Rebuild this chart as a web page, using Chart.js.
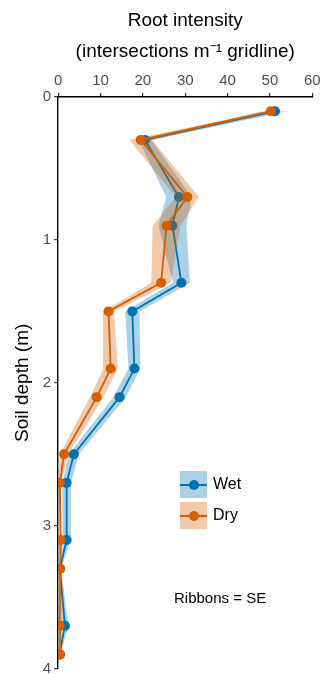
<!DOCTYPE html>
<html>
<head>
<meta charset="utf-8">
<script src="https://cdn.jsdelivr.net/npm/chart.js@4"></script>
<style>
  html, body { margin: 0; padding: 0; background: #fff; }
  #wrap { position: relative; width: 321px; height: 674px; font-family: "Liberation Sans", Arial, sans-serif; }
  canvas { position: absolute; left: 0; top: 0; }
  .key { position: absolute; width: 27px; height: 27px; }
  .key .ln { position: absolute; left: 0; right: 0; top: 12.5px; height: 2px; }
  .key .pt { position: absolute; left: 8.5px; top: 8.5px; width: 10px; height: 10px; border-radius: 50%; }
  .lab { position: absolute; font-size: 16px; color: #000; line-height: 16px; }
  .note { position: absolute; font-size: 15px; color: #000; line-height: 15px; }
</style>
</head>
<body>
<div id="wrap">
  <canvas id="c" width="321" height="674"></canvas>
  <div class="key" style="left:180px; top:471px; background:rgba(0,114,178,0.33)">
    <div class="ln" style="background:#0072B2"></div><div class="pt" style="background:#0072B2"></div>
  </div>
  <div class="lab" style="left:213px; top:476px">Wet</div>
  <div class="key" style="left:180px; top:502px; background:rgba(213,94,0,0.33)">
    <div class="ln" style="background:#D55E00"></div><div class="pt" style="background:#D55E00"></div>
  </div>
  <div class="lab" style="left:213px; top:507px">Dry</div>
  <div class="note" style="left:174px; top:590px">Ribbons = SE</div>
</div>
<script>
// Soil depth (m)
const depths = [0.1, 0.3, 0.7, 0.9, 1.3, 1.5, 1.9, 2.1, 2.5, 2.7, 3.1, 3.3, 3.7, 3.9];
// Root intensity (intersections per m gridline)
const wetMean = [51.2, 20.5, 28.5, 27.0, 29.1, 17.5, 18.0, 14.5, 3.7, 2.0, 2.0, 0.4, 1.6, 0.3];
const wetSE   = [3.0, 1.5, 3.0, 3.3, 2.0, 1.7, 1.4, 1.5, 1.2, 1.0, 1.0, 0.3, 0.8, 0.3];
const dryMean = [50.2, 19.5, 30.5, 25.6, 24.3, 11.9, 12.4, 9.1, 1.4, 0.4, 0.6, 0.5, 0.4, 0.5];
const drySE   = [1.0, 2.7, 2.7, 3.3, 2.3, 1.3, 1.7, 1.6, 1.0, 0.3, 0.3, 0.2, 0.3, 0.2];
const xTicks = [0, 10, 20, 30, 40, 50, 60];
const yTicks = [0, 1, 2, 3, 4];

const WET = '#0072B2', DRY = '#D55E00';
const WET_FILL = 'rgba(0,114,178,0.33)', DRY_FILL = 'rgba(213,94,0,0.33)';

const pts = (vals) => depths.map((d, i) => ({ x: vals[i], y: d }));
const band = (m, s, sign) => pts(m.map((v, i) => v + sign * s[i]));

const edge = { borderWidth: 0, pointRadius: 0, showLine: true, borderColor: 'rgba(0,0,0,0)' };
const datasets = [
  Object.assign({ label: 'wetLo', data: band(wetMean, wetSE, -1), fill: false, order: 6 }, edge),
  Object.assign({ label: 'wetHi', data: band(wetMean, wetSE, 1), fill: '-1', backgroundColor: WET_FILL, order: 5 }, edge),
  { label: 'Wet', data: pts(wetMean), borderColor: WET, backgroundColor: WET, borderWidth: 1.8,
    pointRadius: 5, pointBorderWidth: 0, pointBackgroundColor: WET, fill: false, order: 4 },
  Object.assign({ label: 'dryLo', data: band(dryMean, drySE, -1), fill: false, order: 3 }, edge),
  Object.assign({ label: 'dryHi', data: band(dryMean, drySE, 1), fill: '-1', backgroundColor: DRY_FILL, order: 2 }, edge),
  { label: 'Dry', data: pts(dryMean), borderColor: DRY, backgroundColor: DRY, borderWidth: 1.8,
    pointRadius: 5, pointBorderWidth: 0, pointBackgroundColor: DRY, fill: false, order: 1 }
];

const FONT = '"Liberation Sans", Arial, sans-serif';

new Chart(document.getElementById('c'), {
  type: 'line',
  data: { datasets },
  options: {
    responsive: false,
    devicePixelRatio: 1,
    animation: false,
    events: [],
    indexAxis: 'y',
    layout: { padding: 0 },
    elements: { line: { tension: 0 } },
    plugins: { legend: { display: false }, tooltip: { enabled: false } },
    scales: {
      x: {
        type: 'linear', position: 'top', min: 0, max: 60,
        afterBuildTicks: (s) => { s.ticks = xTicks.map(v => ({ value: v })); },
        afterFit: (s) => { s.paddingRight = 8.7; s.paddingLeft = 0; },
        ticks: { color: '#4d4d4d', padding: 3, font: { family: FONT, size: 15, lineHeight: 1.2 } },
        grid: { display: true, drawOnChartArea: false, drawTicks: true, tickLength: 4, color: '#333', lineWidth: 1.2 },
        border: { display: true, color: '#000', width: 1.4 },
        title: { display: true, text: ['Root intensity', '(intersections m\u207B\u00B9 gridline)'], color: '#000',
                 font: { family: FONT, size: 19, lineHeight: '31px' }, padding: { top: 5, bottom: 2 } }
      },
      y: {
        type: 'linear', position: 'left', reverse: true, min: 0, max: 4,
        afterBuildTicks: (s) => { s.ticks = yTicks.map(v => ({ value: v })); },
        afterFit: (s) => { s.paddingBottom = 5.3; s.paddingTop = 0; },
        ticks: { color: '#4d4d4d', padding: 3, font: { family: FONT, size: 15, lineHeight: 1.2 } },
        grid: { display: true, drawOnChartArea: false, drawTicks: true, tickLength: 4, color: '#333', lineWidth: 1.2 },
        border: { display: true, color: '#000', width: 1.4 },
        title: { display: true, text: 'Soil depth (m)', color: '#000',
                 font: { family: FONT, size: 19, lineHeight: 1.2 }, padding: { top: 11.5, bottom: 5.5 } }
      }
    }
  }
});
</script>
</body>
</html>
